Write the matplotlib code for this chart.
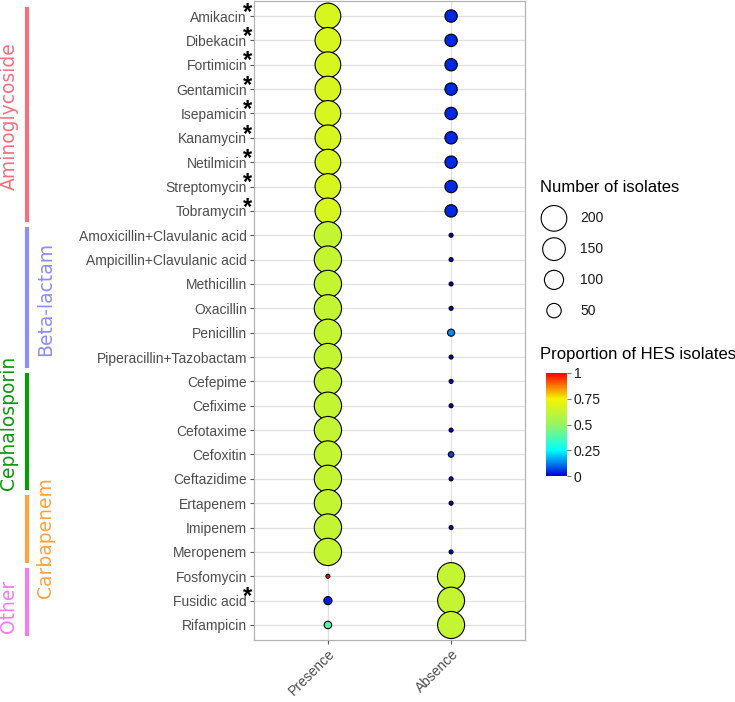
import numpy as np
import matplotlib
matplotlib.use('Agg')
import matplotlib.pyplot as plt
import matplotlib.transforms as mtransforms
from matplotlib.colors import LinearSegmentedColormap

plt.rcParams['font.family'] = ['Liberation Sans', 'DejaVu Sans']

# antibiotics, top to bottom
drugs = ['Amikacin', 'Dibekacin', 'Fortimicin', 'Gentamicin', 'Isepamicin',
         'Kanamycin', 'Netilmicin', 'Streptomycin', 'Tobramycin',
         'Amoxicillin+Clavulanic acid', 'Ampicillin+Clavulanic acid',
         'Methicillin', 'Oxacillin', 'Penicillin', 'Piperacillin+Tazobactam',
         'Cefepime', 'Cefixime', 'Cefotaxime', 'Cefoxitin', 'Ceftazidime',
         'Ertapenem', 'Imipenem', 'Meropenem',
         'Fosfomycin', 'Fusidic acid', 'Rifampicin']
starred = ['Amikacin', 'Dibekacin', 'Fortimicin', 'Gentamicin', 'Isepamicin',
           'Kanamycin', 'Netilmicin', 'Streptomycin', 'Tobramycin', 'Fusidic acid']

status = ['Presence', 'Absence']

# number of isolates
presence_n = [201, 201, 201, 201, 201, 201, 201, 201, 201,
              230, 230, 230, 230, 226, 230,
              230, 230, 230, 229, 230,
              230, 230, 230,
              5, 12, 10]
absence_n = [34, 34, 34, 34, 34, 34, 34, 34, 34,
             5, 5, 5, 5, 9, 5,
             5, 5, 5, 6, 5,
             5, 5, 5,
             230, 223, 225]

# proportion of HES isolates
presence_prop = [0.67, 0.67, 0.67, 0.67, 0.67, 0.67, 0.67, 0.67, 0.67,
                 0.62, 0.62, 0.62, 0.62, 0.62, 0.62,
                 0.62, 0.62, 0.62, 0.62, 0.62,
                 0.62, 0.62, 0.62,
                 1.0, 0.03, 0.38]
absence_prop = [0.04, 0.04, 0.04, 0.04, 0.04, 0.04, 0.04, 0.04, 0.04,
                0.0, 0.0, 0.0, 0.0, 0.14, 0.0,
                0.0, 0.0, 0.0, 0.07, 0.0,
                0.0, 0.0, 0.0,
                0.62, 0.62, 0.62]

groups = ['Aminoglycoside', 'Beta-lactam', 'Cephalosporin', 'Carbapenem', 'Other']
group_first = ['Amikacin', 'Amoxicillin+Clavulanic acid', 'Cefepime', 'Ertapenem', 'Fosfomycin']
group_last = ['Tobramycin', 'Piperacillin+Tazobactam', 'Ceftazidime', 'Meropenem', 'Rifampicin']
group_colors = ['#f4707e', '#8c8cff', '#0a9a0a', '#ffa23f', '#f07ef0']
group_text_x = [9, 46, 9, 46, 9]          # pixels from left
group_text_y = [4.1, 11.6, 16.7, 21.4, 24.25]  # in row units

size_breaks = [200, 150, 100, 50]

W, H = 735, 702
cmap = LinearSegmentedColormap.from_list(
    'hes', [(0, '#0000dc'), (0.25, '#00ffff'), (0.5, '#96f560'),
            (0.75, '#f5f500'), (1, '#ff0000')])

all_n = presence_n + absence_n
nmin, nmax = min(all_n), max(all_n)


def marker_size(n):
    # ggplot-like area scale: diameter 5..28 px
    n = np.asarray(n, dtype=float)
    d = 5 + 23.3 * np.sqrt(np.clip((n - nmin) / (nmax - nmin), 0, None)) - 1
    return (d * 72 / 100) ** 2


fig = plt.figure(figsize=(W / 100, H / 100), dpi=100)
ax = fig.add_axes([254 / W, 1 - 639.6 / H, (525 - 254) / W, (639.6 - 1.4) / H])

sc = ax.scatter([status[0]] * len(drugs), drugs, s=marker_size(presence_n),
                c=presence_prop, cmap=cmap, vmin=0, vmax=1,
                edgecolors='black', linewidths=0.8, zorder=3)
ax.scatter([status[1]] * len(drugs), drugs, s=marker_size(absence_n),
           c=absence_prop, cmap=cmap, vmin=0, vmax=1,
           edgecolors='black', linewidths=0.8, zorder=3)

ax.set_xlim(-0.6, 1.6)
ax.set_ylim(len(drugs) - 1 + 0.6, -0.6)
ax.grid(True, color='#e0e0e0', linewidth=0.9)
ax.set_axisbelow(True)
for sp in ax.spines.values():
    sp.set_color('#b3b3b3')
    sp.set_linewidth(0.9)
ax.tick_params(length=3, width=0.8, color='#555555', labelsize=10,
               labelcolor='#4d4d4d', pad=2)
plt.setp(ax.get_xticklabels(), rotation=45, ha='right', rotation_mode='anchor')

# significance stars
for d in starred:
    i = drugs.index(d)
    ax.annotate('*', xy=(0, i), xycoords=('axes fraction', 'data'),
                xytext=(-5, 11), textcoords='offset points',
                ha='center', va='top', fontsize=17, fontweight='bold',
                color='black')

# antibiotic class bars
trans = mtransforms.blended_transform_factory(fig.transFigure, ax.transData)
for g, f, l, col, tx, ty in zip(groups, group_first, group_last, group_colors,
                                group_text_x, group_text_y):
    y0 = drugs.index(f) - 0.35
    y1 = drugs.index(l) + 0.45
    ax.plot([27 / W, 27 / W], [y0, y1], transform=trans, color=col, lw=3,
            solid_capstyle='butt', clip_on=False)
    ax.text(tx / W, ty, g, transform=trans, rotation=90, ha='center',
            va='center', color=col, fontsize=13.5, family='DejaVu Sans')

# size legend
fig.text(540 / W, 1 - 187 / H, 'Number of isolates', fontsize=12, va='center')
lax = fig.add_axes([540 / W, 1 - 326 / H, 80 / W, 123 / H])
lax.scatter(np.full(len(size_breaks), 14), np.arange(len(size_breaks)),
            s=marker_size(size_breaks), facecolors='white',
            edgecolors='black', linewidths=0.8)
for k, b in enumerate(size_breaks):
    lax.text(40, k, str(b), va='center', ha='left', fontsize=10,
             color='#1a1a1a')
lax.set_xlim(0, 80)
lax.set_ylim(len(size_breaks) - 0.5, -0.5)
lax.axis('off')

# colour bar
fig.text(540 / W, 1 - 354 / H, 'Proportion of HES isolates', fontsize=12,
         va='center')
cax = fig.add_axes([546 / W, 1 - 476 / H, 21 / W, 103 / H])
cb = fig.colorbar(sc, cax=cax, ticks=[0, 0.25, 0.5, 0.75, 1])
cb.ax.set_yticklabels(['0', '0.25', '0.5', '0.75', '1'])
cb.outline.set_visible(False)
cax.tick_params(length=3, width=0.8, color='#777777', labelsize=10,
                labelcolor='#1a1a1a', pad=2)

fig.savefig('out.png', dpi=100)
